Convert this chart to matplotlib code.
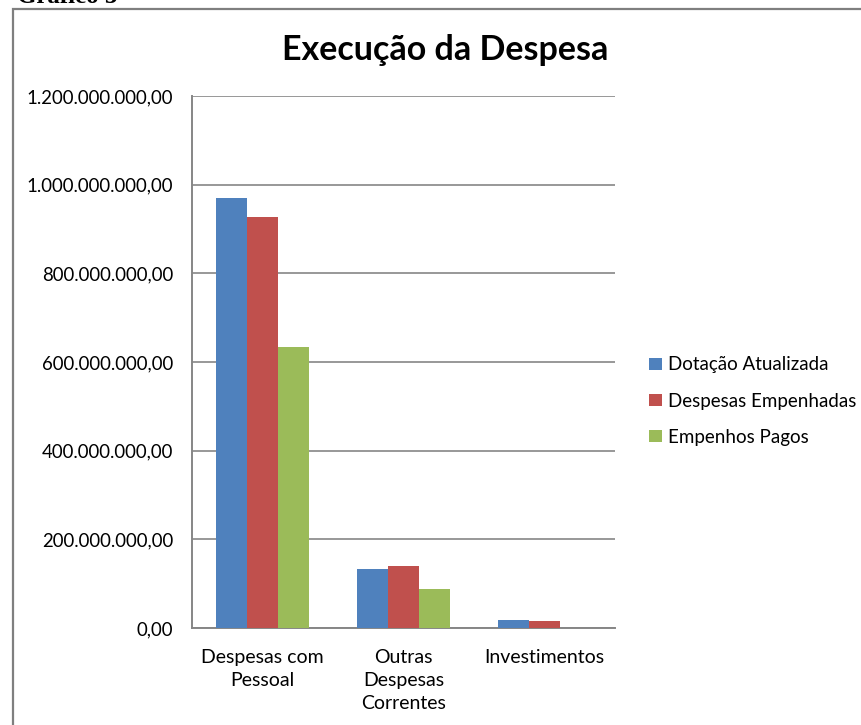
import matplotlib
matplotlib.use("Agg")
import matplotlib.pyplot as plt
from matplotlib.patches import Rectangle, Patch
from matplotlib.ticker import FuncFormatter
import numpy as np

plt.rcParams['font.family'] = ['Lato', 'DejaVu Sans']

categorias = ["Despesas com\nPessoal", "Outras\nDespesas\nCorrentes", "Investimentos"]
series = ["Dotação Atualizada", "Despesas Empenhadas", "Empenhos Pagos"]
dotacao = [970000000, 133000000, 18000000]
empenhadas = [928000000, 139000000, 15000000]
pagos = [634000000, 88000000, 0]
cores = ["#4F81BD", "#C0504D", "#9BBB59"]


def fmt_br(v, pos):
    s = f"{v:,.2f}"
    return s.replace(",", "X").replace(".", ",").replace("X", ".")


fig = plt.figure(figsize=(8.62, 7.25), dpi=100)

# moldura do grafico (cortada a direita e embaixo)
fig.patches.append(Rectangle((13 / 862, -0.1), 1.2, 1.1 - 9 / 725, transform=fig.transFigure,
                             fill=False, edgecolor="#7f7f7f", linewidth=1.6))
# legenda do documento, cortada no topo como no original
fig.text(17 / 862, 1 - 3 / 725, "Gráfico 3", family="Liberation Serif", fontweight="bold",
         fontsize=18, ha="left", va="baseline")

ax = fig.add_axes([192 / 862, 1 - 628 / 725, 423 / 862, 532 / 725])

x = np.arange(len(categorias))
w = 0.222
for i, (vals, nome) in enumerate(zip([dotacao, empenhadas, pagos], series)):
    ax.bar(x + (i - 1) * w, vals, width=w, color=cores[i], label=nome, zorder=3)

ax.set_xlim(-0.5, 2.5)
ax.set_ylim(0, 1200000000)
ax.set_yticks(np.arange(0, 1200000001, 200000000))
ax.yaxis.set_major_formatter(FuncFormatter(fmt_br))
ax.grid(axis="y", color="#868686", linewidth=1.2, zorder=0)
ax.set_xticks(x)
ax.set_xticklabels(categorias, fontsize=14, linespacing=1.45, va="top")
ax.tick_params(axis="both", length=0)
ax.tick_params(axis="y", pad=13.5, labelsize=13.4)
ax.tick_params(axis="x", pad=15)
for s in ["top", "right"]:
    ax.spines[s].set_visible(False)
for s in ["left", "bottom"]:
    ax.spines[s].set_color("#868686")
    ax.spines[s].set_linewidth(1.4)

fig.text(445 / 862, 1 - 50 / 725, "Execução da Despesa", fontsize=24.5, fontweight="bold",
         ha="center", va="center")

handles = [Patch(facecolor=c) for c in cores]
fig.legend(handles, series, loc="center left", bbox_to_anchor=(640 / 862, 1 - 401 / 725),
           frameon=False, fontsize=13.5, handlelength=0.65, handleheight=0.65,
           handletextpad=0.35, labelspacing=1.02, borderpad=0)

fig.savefig("out.png", dpi=100)
